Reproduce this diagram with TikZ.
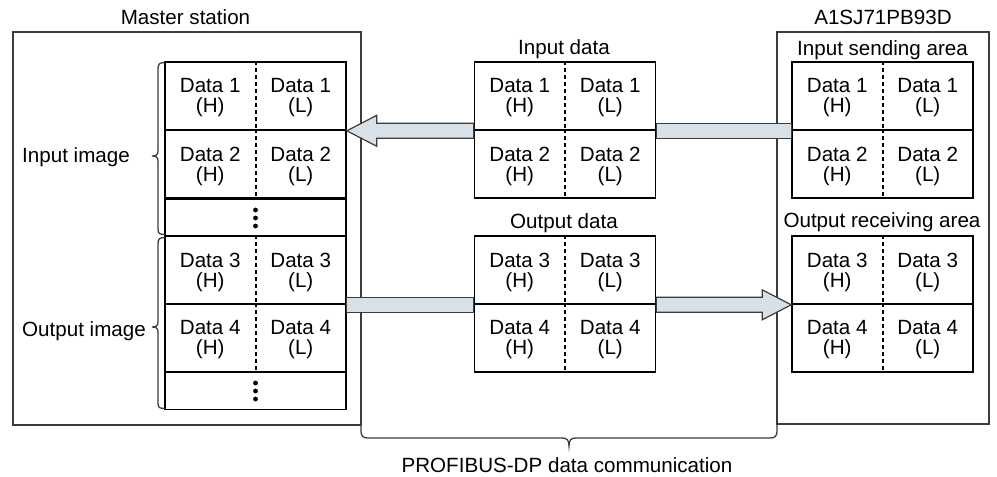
\documentclass[tikz,border=0pt]{standalone}
\usepackage{fontspec}
\setmainfont{Liberation Sans}
\usetikzlibrary{calc}
\definecolor{arrowblue}{RGB}{215,225,231}
\definecolor{boxgray}{RGB}{60,60,60}
\tikzset{
  outerbox/.style={draw=boxgray, line width=1.3pt, inner sep=0pt},
  rowbox/.style={draw=black, fill=white, line width=1.6pt, inner sep=0pt, minimum width=181pt, minimum height=68pt},
  divider/.style={draw=black, line width=2pt, dash pattern=on 4pt off 3pt},
  celltxt/.style={inner sep=0pt, align=center, font=\fontsize{20.6pt}{20pt}\selectfont},
  lbl/.style={inner sep=0pt, anchor=base, font=\fontsize{20.6pt}{20pt}\selectfont},
  arrowst/.style={fill=arrowblue, draw=boxgray, line width=1.2pt, line join=miter},
  bracest/.style={draw=boxgray, line width=1.3pt},
  dotst/.style={fill=black, draw=none}
}
\newcommand\mkrow[4]{%
  \node[rowbox] (#1) at (#2,#3) {};
  \draw[divider] (#1.north) -- (#1.south);
  \node[celltxt] (#1h) at ([xshift=-45.25pt,yshift=-2pt]#1.center) {Data #4\\(H)};
  \node[celltxt] (#1l) at ([xshift=45.25pt,yshift=-2pt]#1.center) {Data #4\\(L)};
}
\newcommand\mkdots[3]{%
  \node[rowbox, minimum height=#3pt] (#1) at (255.5,#2) {};
  \fill[dotst] ([yshift=8pt]#1.center) circle (2.4pt);
  \fill[dotst] (#1.center) circle (2.4pt);
  \fill[dotst] ([yshift=-8pt]#1.center) circle (2.4pt);
}
\begin{document}
\begin{tikzpicture}[x=1pt,y=-1pt]
\useasboundingbox (0,0) rectangle (997,477);
% outer boxes
\node[outerbox, minimum width=348pt, minimum height=393pt] (master) at (187,228.5) {};
\node[outerbox, minimum width=212pt, minimum height=392pt] (slave) at (883,228) {};
% labels
\node[lbl] (mlab) at (185.5,24) {Master station};
\node[lbl] (slab) at (883,24) {A1SJ71PB93D};
\node[lbl] (islab) at (882.5,55) {Input sending area};
\node[lbl] (orlab) at (882,227) {Output receiving area};
\node[lbl] (idlab) at (564,54) {Input data};
\node[lbl] (odlab) at (564,228) {Output data};
\node[lbl, anchor=base west] (iilab) at (22,162) {Input image};
\node[lbl, anchor=base west] (oilab) at (22,336) {Output image};
\node[lbl] (pdlab) at (567,472) {PROFIBUS-DP data communication};
% master tables
\mkrow{mI1}{255.5}{96}{1}
\mkrow{mI2}{255.5}{164}{2}
\mkdots{mId}{218}{38}
\mkrow{mO3}{255.5}{270}{3}
\mkrow{mO4}{255.5}{338}{4}
\mkdots{mOd}{391}{37}
% centre tables
\mkrow{cI1}{565}{96}{1}
\mkrow{cI2}{565}{164}{2}
\mkrow{cO3}{565}{270}{3}
\mkrow{cO4}{565}{338}{4}
% slave tables
\mkrow{sI1}{882.5}{96}{1}
\mkrow{sI2}{882.5}{164}{2}
\mkrow{sO3}{882.5}{270}{3}
\mkrow{sO4}{882.5}{338}{4}
% input arrow (right to left)
\filldraw[arrowst] ([yshift=7.5pt]cI1.south east) rectangle ([yshift=-7.5pt]sI1.south west);
\filldraw[arrowst] let \p1=(cI1.south west), \p2=(mI1.south east) in
  (\x1,\y1+7.5pt) -- (\x2+30pt,\y1+7.5pt) -- (\x2+30pt,\y1+15.5pt) -- (\p2)
  -- (\x2+30pt,\y1-15.5pt) -- (\x2+30pt,\y1-7.5pt) -- (\x1,\y1-7.5pt) -- cycle;
% output arrow (left to right)
\filldraw[arrowst] ([yshift=7.5pt]mO3.south east) rectangle ([yshift=-7.5pt]cO3.south west);
\filldraw[arrowst] let \p1=(cO3.south east), \p2=(sO3.south west) in
  (\x1,\y1+7.5pt) -- (\x2-29pt,\y1+7.5pt) -- (\x2-29pt,\y1+15pt) -- (\p2)
  -- (\x2-29pt,\y1-15pt) -- (\x2-29pt,\y1-7.5pt) -- (\x1,\y1-7.5pt) -- cycle;
% left braces
\draw[bracest] (165,62.5) .. controls (159.5,62.5) and (158,64) .. (158,69)
  -- (158,151) .. controls (158,155) and (156,156) .. (152,156)
  .. controls (156,156) and (158,157) .. (158,161)
  -- (158,229) .. controls (158,233.5) and (159.5,234.5) .. (165,234.5);
\draw[bracest] (165,237.5) .. controls (159.5,237.5) and (158,239) .. (158,244)
  -- (158,322) .. controls (158,326) and (156,327) .. (152,327)
  .. controls (156,327) and (158,328) .. (158,332)
  -- (158,403) .. controls (158,407.5) and (159.5,408.5) .. (165,408.5);
% bottom brace
\draw[bracest] (361,425) -- (361,431) .. controls (361,436) and (363,438) .. (368,438)
  -- (562,438) .. controls (567,438) and (569,440) .. (569,446)
  .. controls (569,440) and (571,438) .. (576,438)
  -- (770,438) .. controls (775,438) and (777,436) .. (777,431) -- (777,424);
\end{tikzpicture}
\end{document}
